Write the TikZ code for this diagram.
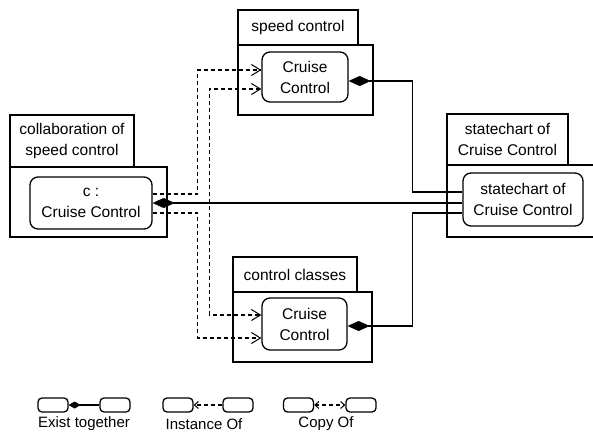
\documentclass[tikz,border=0pt]{standalone}
\usepackage{fontspec}
\setmainfont{Liberation Sans}
\usetikzlibrary{arrows.meta}
\begin{document}
\begin{tikzpicture}[x=1pt,y=-1pt,
  every node/.style={font=\fontsize{15.5}{21}\selectfont, align=center, inner sep=0pt, line width=1.3pt},
  pkgbox/.style={draw, rectangle, minimum width=#1},
  cls/.style={draw, rounded corners=8pt},
  lgd/.style={draw, rounded corners=4pt, minimum width=30pt, minimum height=14pt},
  exist/.style={line width=1.3pt, {Diamond[length=22pt,width=10pt,line width=0.5pt]}-},
  sexist/.style={line width=1.3pt, {Diamond[length=12pt,width=7pt,line width=0.5pt]}-},
  inst/.style={line width=1.2pt, dash pattern=on 4pt off 3pt, -{Straight Barb[length=9pt,width=11pt,line width=1pt]}},
  copyof/.style={line width=1.2pt, dash pattern=on 4pt off 3pt, {Straight Barb[length=9pt,width=11pt,line width=1pt]}-{Straight Barb[length=9pt,width=11pt,line width=1pt]}},
  sinst/.style={line width=1.2pt, dash pattern=on 4pt off 3pt, -{Straight Barb[length=4pt,width=7pt,line width=1pt]}},
  scopyof/.style={line width=1.2pt, dash pattern=on 4pt off 3pt, {Straight Barb[length=4pt,width=7pt,line width=1pt]}-{Straight Barb[length=4pt,width=7pt,line width=1pt]}}
]
\useasboundingbox[fill=white] (0,0) rectangle (593,439);

% collaboration package
\node[pkgbox=124pt, minimum height=52pt] (lLabel) at (72,141) {collaboration of\\speed control};
\node[pkgbox=157pt, minimum height=70pt] (lBody) at (88.5,202) {};
\node[cls, minimum width=122pt, minimum height=52pt] (cNode) at (91,203) {c :\\Cruise Control};

% speed control package
\node[pkgbox=120pt, minimum height=35pt] (sLabel) at (298,27.5) {speed control};
\node[pkgbox=135pt, minimum height=70pt] (sBody) at (305.5,80) {};
\node[cls, minimum width=86pt, minimum height=50pt] (sNode) at (305,77) {Cruise\\Control};

% control classes package
\node[pkgbox=124pt, minimum height=35pt] (kLabel) at (295,274.5) {control classes};
\node[pkgbox=139pt, minimum height=70pt] (kBody) at (302.5,327) {};
\node[cls, minimum width=85pt, minimum height=52pt] (kNode) at (304.5,324) {Cruise\\Control};

% statechart package
\node[pkgbox=121pt, minimum height=51pt] (tLabel) at (507.5,139.5) {statechart of\\Cruise Control};
\node[pkgbox=153pt, minimum height=72pt] (tBody) at (523.5,201) {};
\node[cls, fill=white, minimum width=120pt, minimum height=53pt] (tNode) at (523,199.5) {statechart of\\Cruise Control};

% exist together
\draw[exist] (cNode.east) -- (cNode.east -| tNode.west);
\draw[exist] ([yshift=-4pt]sNode.east) -- ++(64,0) |- ([yshift=7.5pt]tNode.west);
\draw[exist] ([yshift=-2pt]kNode.east) -- ++(65,0) |- ([yshift=-13.5pt]tNode.west);

% instance of
\draw[inst] ([yshift=9pt]cNode.east) -- ++(45,0) |- ([yshift=7pt]sNode.west);
\draw[inst] ([yshift=-10pt]cNode.east) -- ++(45,0) |- ([yshift=-14pt]kNode.west);

% copy of
\draw[copyof] ([yshift=-12pt]sNode.west) -- ++(-52,0) |- ([yshift=9pt]kNode.west);

% legend
\node[lgd] (e1) at (53,405) {};
\node[lgd] (e2) at (115,405) {};
\draw[sexist] (e1.east) -- (e2.west);
\node[font=\fontsize{15}{18}\selectfont] (eT) at (84,424) {Exist together};

\node[lgd] (i1) at (178,405) {};
\node[lgd] (i2) at (238,405) {};
\draw[sinst] (i2.west) -- (i1.east);
\node[font=\fontsize{15}{18}\selectfont] (iT) at (204,424) {Instance Of};

\node[lgd] (c1) at (298.5,405) {};
\node[lgd] (c2) at (361,405) {};
\draw[scopyof] (c1.east) -- (c2.west);
\node[font=\fontsize{15}{18}\selectfont] (cT) at (326,424) {Copy Of};
\end{tikzpicture}
\end{document}
